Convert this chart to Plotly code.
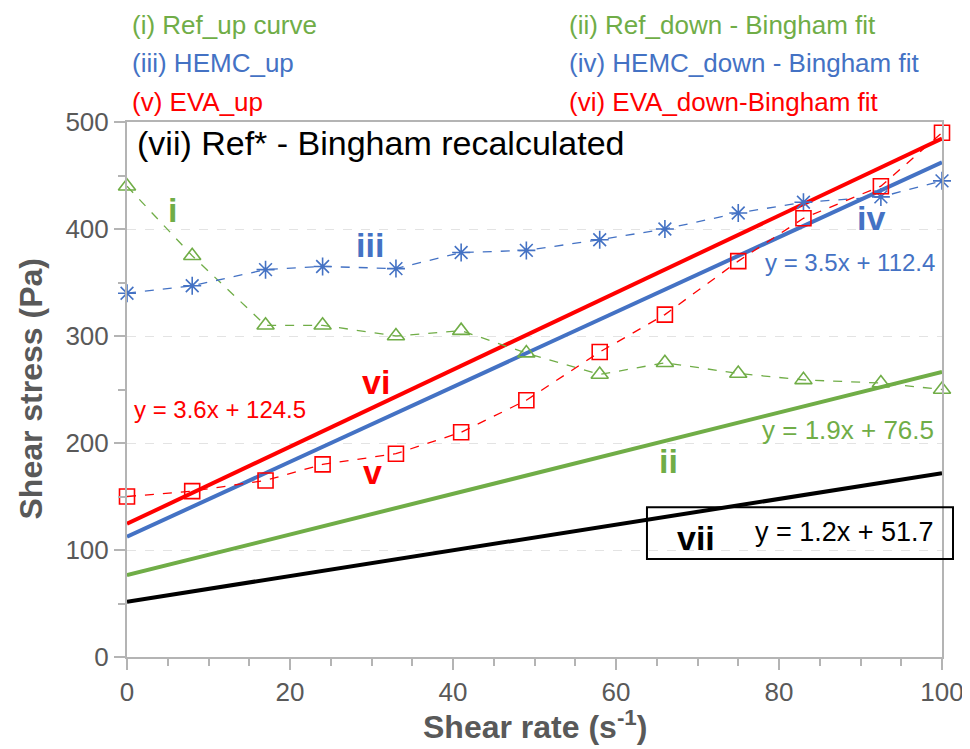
import plotly.graph_objects as go

shear_rate = [0, 8, 17, 24, 33, 41, 49, 58, 66, 75, 83, 92.5, 100]
ref_up = [440, 375, 310, 310, 300, 305, 284, 264, 275, 265, 259, 256, 250]
hemc_up = [340, 347, 362, 365, 363, 378, 380, 390, 400, 415, 425, 430, 445]
eva_up = [150, 155, 165, 180, 190, 210, 240, 285, 320, 370, 410, 440, 490]

fit_x = [0, 100]
fits = {
    "ii": (1.9, 76.5),
    "iv": (3.5, 112.4),
    "vi": (3.6, 124.5),
    "vii": (1.2, 51.7),
}

GREEN = "#70AD47"
BLUE = "#4472C4"
RED = "#FF0000"
BLACK = "#000000"
GRAY = "#595959"
AXC = "#B4B4B4"
FONT = "Liberation Sans, Arial, sans-serif"

fig = go.Figure()

def fit_line(key, color):
    m, b = fits[key]
    fig.add_trace(go.Scatter(x=fit_x, y=[m * v + b for v in fit_x], mode="lines",
                             line=dict(color=color, width=4), showlegend=False,
                             hoverinfo="skip"))

fit_line("vii", BLACK)
fit_line("ii", GREEN)
fit_line("iv", BLUE)
fit_line("vi", RED)

def data_series(y, color, symbol):
    fig.add_trace(go.Scatter(x=shear_rate, y=y, mode="lines+markers",
                             line=dict(color=color, width=1.3, dash="dash"),
                             marker=dict(symbol=symbol, size=15,
                                         line=dict(color=color, width=1.6), color=color),
                             showlegend=False, cliponaxis=False))

data_series(ref_up, GREEN, "triangle-up-open")
data_series(hemc_up, BLUE, "asterisk-open")
data_series(eva_up, RED, "square-open")

ann = []
def txt(x, y, s, color, size, bold=False, xref="x", yref="y", xanchor="center", angle=0):
    ann.append(dict(x=x, y=y, xref=xref, yref=yref, text=("<b>%s</b>" % s) if bold else s,
                    showarrow=False, xanchor=xanchor, yanchor="middle", textangle=angle,
                    font=dict(family=FONT, size=size, color=color)))

# series labels
txt(5.6, 418, "i", GREEN, 34, True)
txt(29.8, 385, "iii", BLUE, 34, True)
txt(91.3, 410, "iv", BLUE, 34, True)
txt(30.6, 257, "vi", RED, 34, True)
txt(30.1, 173, "v", RED, 34, True)
txt(66.5, 183, "ii", GREEN, 34, True)
txt(69.8, 111, "vii", BLACK, 34, True)

# equations
txt(11.4, 231, "y = 3.6x + 124.5", RED, 24)
txt(88.7, 369, "y = 3.5x + 112.4", BLUE, 24)
txt(88.5, 212, "y = 1.9x + 76.5", GREEN, 26)
txt(88.0, 117, "y = 1.2x + 51.7", BLACK, 27)

# inner title
txt(0.01, 480, "(vii) Ref* - Bingham recalculated", BLACK, 34, xref="paper", xanchor="left")

# top legend text
LS = 26
txt(0.004, 1.181, "(i) Ref_up curve", GREEN, LS, xref="paper", yref="paper", xanchor="left")
txt(0.004, 1.110, "(iii) HEMC_up", BLUE, LS, xref="paper", yref="paper", xanchor="left")
txt(0.004, 1.037, "(v) EVA_up", RED, LS, xref="paper", yref="paper", xanchor="left")
txt(0.540, 1.181, "(ii) Ref_down - Bingham fit", GREEN, LS, xref="paper", yref="paper", xanchor="left")
txt(0.540, 1.110, "(iv) HEMC_down - Bingham fit", BLUE, LS, xref="paper", yref="paper", xanchor="left")
txt(0.540, 1.037, "(vi) EVA_down-Bingham fit", RED, LS, xref="paper", yref="paper", xanchor="left")

# axis titles
txt(0.5, -0.127, "Shear rate (s<sup>-1</sup>)", GRAY, 32, True, xref="paper", yref="paper")
txt(-0.119, 0.5, "Shear stress (Pa)", GRAY, 32, True, xref="paper", yref="paper", angle=-90)

fig.update_layout(
    width=962, height=741,
    margin=dict(l=119, r=28, t=114, b=92, autoexpand=False),
    paper_bgcolor="white", plot_bgcolor="white",
    annotations=ann,
    shapes=[dict(type="rect", xref="paper", yref="paper",
                 x0=0.638, x1=1.0135, y0=0.183, y1=0.28,
                 line=dict(color=BLACK, width=2), fillcolor="rgba(0,0,0,0)")],
    xaxis=dict(range=[0, 100], dtick=20, tick0=0, showgrid=False, zeroline=False,
               automargin=False,
               showline=True, linecolor=AXC, linewidth=2, mirror=True,
               ticks="outside", ticklen=11, tickcolor=AXC, tickwidth=2,
               minor=dict(dtick=5, ticks="outside", ticklen=7, tickcolor=AXC, tickwidth=2),
               tickfont=dict(family=FONT, size=26, color=GRAY)),
    yaxis=dict(range=[0, 500], dtick=100, tick0=0, showgrid=True, gridcolor="#E3E3E3",
               griddash="dash", gridwidth=1, zeroline=False, automargin=False,
               showline=True, linecolor=AXC, linewidth=2, mirror=True,
               ticks="outside", ticklen=11, tickcolor=AXC, tickwidth=2,
               minor=dict(dtick=50, ticks="outside", ticklen=7, tickcolor=AXC, tickwidth=2),
               tickfont=dict(family=FONT, size=26, color=GRAY)),
)

fig.write_html("out.html")
